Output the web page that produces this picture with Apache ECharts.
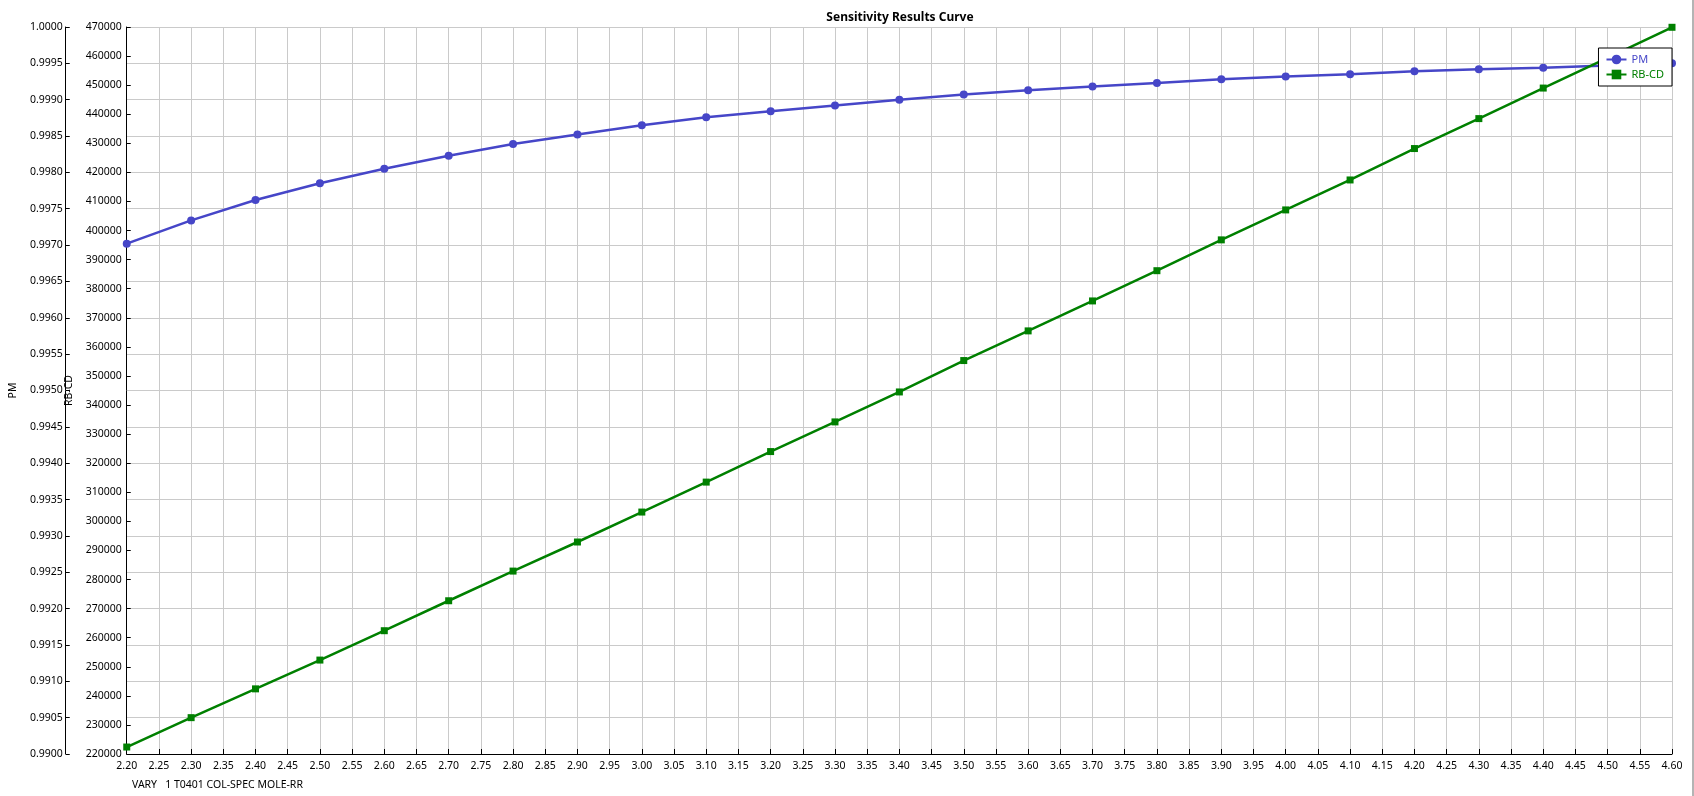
<!DOCTYPE html>
<html>
<head>
<meta charset="utf-8">
<script src="https://cdn.jsdelivr.net/npm/echarts@6/dist/echarts.min.js"></script>
<style>
html,body{margin:0;padding:0;background:#fff;}
#chart{width:1694px;height:796px;}
</style>
</head>
<body>
<div id="chart"></div>
<script>
// ---- data ----
const xValues = [2.2, 2.3, 2.4, 2.5, 2.6, 2.7, 2.8, 2.9, 3.0, 3.1, 3.2, 3.3, 3.4, 3.5, 3.6, 3.7, 3.8, 3.9, 4.0, 4.1, 4.2, 4.3, 4.4, 4.5, 4.6];
const pmValues = [0.99702, 0.99734, 0.99762, 0.99785, 0.99805, 0.99823, 0.99839, 0.99852, 0.99865, 0.99876, 0.99884, 0.99892, 0.99900, 0.99907, 0.99913, 0.99918, 0.99923, 0.99928, 0.99932, 0.99935, 0.99939, 0.99942, 0.99944, 0.99947, 0.99950];
const rbcdValues = [222400, 232500, 242400, 252300, 262400, 272700, 282900, 292900, 303200, 313500, 324000, 334200, 344500, 355300, 365500, 375800, 386200, 396800, 407100, 417400, 428200, 438500, 449000, 459400, 469900];
const xAxisRange = [2.2, 4.6, 0.05];
const pmAxisRange = [0.99, 1.0, 0.0005];
const rbcdAxisRange = [220000, 470000, 10000];
const seriesNames = ['PM', 'RB-CD'];
const titleText = 'Sensitivity Results Curve';
const xAxisName = 'VARY   1 T0401 COL-SPEC MOLE-RR';

const FONT = '"Noto Sans", "Liberation Sans", sans-serif';
const BLUE = '#4646C8';
const GREEN = '#008000';
const GRID = '#CACACA';

const chart = echarts.init(document.getElementById('chart'), null, {renderer: 'canvas'});
const axisCommon = {
  axisLine: {show: true, onZero: false, lineStyle: {color: '#000', width: 1}},
  axisTick: {show: true, inside: true, length: 4, lineStyle: {color: '#000'}},
  axisLabel: {color: '#000', fontSize: 10.5, fontFamily: FONT},
  nameTextStyle: {color: '#000', fontSize: 10.5, fontFamily: FONT}
};
chart.setOption({
  animation: false,
  backgroundColor: '#fff',
  title: [
    {text: titleText, left: 895, textAlign: 'center', top: 7,
     textStyle: {fontSize: 12, fontWeight: 'bold', color: '#000', fontFamily: FONT}},
    {text: xAxisName, left: 127, top: 775,
     textStyle: {fontSize: 10.5, fontWeight: 'normal', color: '#000', fontFamily: FONT}}
  ],
  graphic: [
    {type: 'rect', shape: {x: 1692, y: 0, width: 2, height: 796}, style: {fill: '#B4B4B4'}, silent: true}
  ],
  legend: {
    orient: 'vertical', right: 22, top: 48,
    padding: [6, 8, 6, 7],
    borderColor: '#000', borderWidth: 1, backgroundColor: '#fff',
    itemWidth: 20, itemHeight: 12, itemGap: 4,
    textStyle: {fontSize: 11, fontFamily: FONT},
    data: [
      {name: seriesNames[0], textStyle: {color: BLUE}},
      {name: seriesNames[1], textStyle: {color: GREEN}}
    ]
  },
  grid: {left: 119, right: 22, top: 27, bottom: 42, containLabel: false},
  xAxis: Object.assign({}, axisCommon, {
    type: 'value', min: xAxisRange[0], max: xAxisRange[1], interval: xAxisRange[2],
    axisTick: {show: true, inside: true, length: 5, lineStyle: {color: '#000'}},
    axisLabel: Object.assign({}, axisCommon.axisLabel, {margin: 7, formatter: v => v.toFixed(2)}),
    splitLine: {show: true, lineStyle: {color: GRID, width: 1}}
  }),
  yAxis: [
    Object.assign({}, axisCommon, {
      type: 'value', position: 'left', offset: 61,
      min: pmAxisRange[0], max: pmAxisRange[1], interval: pmAxisRange[2],
      name: 'PM', nameLocation: 'middle', nameRotate: 90, nameGap: 40,
      axisLabel: Object.assign({}, axisCommon.axisLabel, {margin: 3, formatter: v => v.toFixed(4)}),
      splitLine: {show: true, lineStyle: {color: GRID, width: 1}}
    }),
    Object.assign({}, axisCommon, {
      type: 'value', position: 'left', offset: 0,
      min: rbcdAxisRange[0], max: rbcdAxisRange[1], interval: rbcdAxisRange[2],
      name: 'RB-CD', nameLocation: 'middle', nameRotate: 90, nameGap: 46,
      axisLabel: Object.assign({}, axisCommon.axisLabel, {margin: 5, formatter: v => String(v)}),
      splitLine: {show: false}
    })
  ],
  series: [
    {
      name: seriesNames[0], type: 'line', yAxisIndex: 0,
      data: xValues.map((x, i) => [x, pmValues[i]]),
      symbol: 'circle', symbolSize: 8, showAllSymbol: true,
      lineStyle: {color: BLUE, width: 2.5},
      itemStyle: {color: BLUE}
    },
    {
      name: seriesNames[1], type: 'line', yAxisIndex: 1,
      data: xValues.map((x, i) => [x, rbcdValues[i]]),
      symbol: 'rect', symbolSize: 7, showAllSymbol: true,
      lineStyle: {color: GREEN, width: 2.5},
      itemStyle: {color: GREEN}
    }
  ]
});
</script>
</body>
</html>
